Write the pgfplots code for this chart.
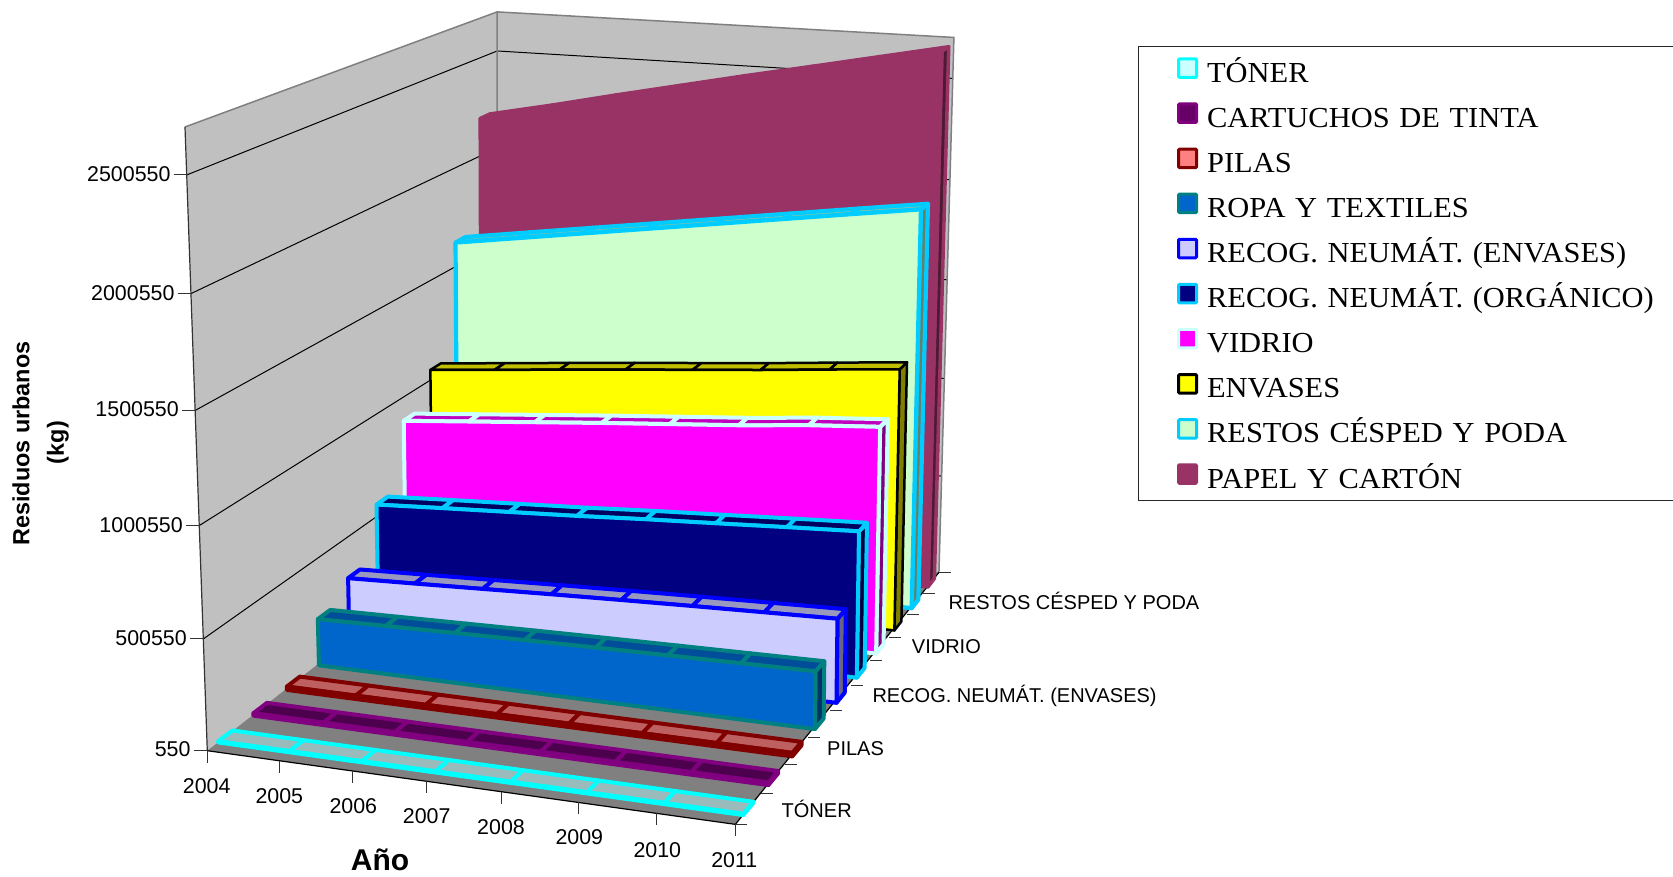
\documentclass[border=0pt]{standalone}
\usepackage{fontspec}
\setmainfont{Liberation Sans}
\newfontfamily\legendfont{Liberation Serif}[FakeStretch=1.05]
\usepackage{pgfplots}
\usepackage{pgfplotstable}
\pgfplotsset{compat=1.18}

% Annual urban waste per collection stream, in thousands of kg
\pgfplotstableread{
yr   toner cart pilas ropa neuenv neuorg vidrio envases restos papel
2004 5     11   16    222  311    569    890    1058    1626   2193
2005 5     11   16    229  323    587    919    1089    1675   2260
2006 5     11   16    236  336    604    948    1121    1724   2332
2007 5     11   16    243  349    621    977    1152    1773   2401
2008 5     11   16    249  361    641    1004   1181    1822   2470
2009 5     11   16    254  372    658    1031   1211    1871   2536
2010 5     11   16    259  382    676    1064   1244    1920   2603
2011 5     11   16    264  392    693    1089   1276    1968   2670
}\wastetable

% Perspective projection: year index (0-7), depth (0-1), value (thousand kg)
\newcommand\project[3]{%
  \pgfmathsetmacro\pu{#1/7}%
  \pgfmathsetmacro\pv{#2}%
  \pgfmathsetmacro\pw{#3/2700}%
  \pgfmathsetmacro\pd{1-0.055*\pu+0.2214*\pv-0.04*\pw}%
  \pgfmathsetmacro\px{(207.3+487.6*\pu+400.3*\pv-29.7*\pw)/\pd+12*\pv*(1-\pv)+8*\pv*\pw}%
  \pgfmathsetmacro\py{(750.7+28.3*\pu-111.4*\pv-628.8*\pw)/\pd+3*\pv*\pw}%
}
\newcommand\addpt[3]{\project{#1}{#2}{#3}\edef\pts{\pts (\px,\py)}}
\newcommand\emitpoly[1]{%
  \edef\tmp{\noexpand\addplot[forget plot,#1] coordinates {\pts} --cycle;}\tmp}
\newcommand\emitline[1]{%
  \edef\tmp{\noexpand\addplot[forget plot,#1] coordinates {\pts};}\tmp}
% Straight segment on the chart box
\newcommand\boxline[7]{%
  \def\pts{}\addpt{#1}{#2}{#3}\addpt{#4}{#5}{#6}\emitline{#7}}

% One series slab: column, series position, front, top, side, border, width
\newcommand\slab[7]{%
  \pgfmathsetmacro\vf{(#2+0.3)/10}%
  \pgfmathsetmacro\vb{(#2+0.7)/10}%
  \def\sty{draw=#6,line width=#7,line join=round}%
  % right end
  \pgfplotstablegetelem{7}{#1}\of\wastetable\let\zlast\pgfplotsretval
  \def\pts{}\addpt{7}{\vf}{0}\addpt{7}{\vb}{0}\addpt{7}{\vb}{\zlast}\addpt{7}{\vf}{\zlast}%
  \emitpoly{fill=#5,\sty}%
  % top, one panel per year
  \pgfplotsforeachungrouped \j in {0,...,6}{%
    \pgfmathtruncatemacro\jn{\j+1}%
    \pgfplotstablegetelem{\j}{#1}\of\wastetable\let\za\pgfplotsretval
    \pgfplotstablegetelem{\jn}{#1}\of\wastetable\let\zb\pgfplotsretval
    \def\pts{}\addpt{\j}{\vf}{\za}\addpt{\jn}{\vf}{\zb}\addpt{\jn}{\vb}{\zb}\addpt{\j}{\vb}{\za}%
    \emitpoly{fill=#4,\sty}%
  }%
  % front
  \def\pts{}\addpt{0}{\vf}{0}%
  \pgfplotsforeachungrouped \j in {0,...,7}{%
    \pgfplotstablegetelem{\j}{#1}\of\wastetable\let\za\pgfplotsretval
    \addpt{\j}{\vf}{\za}%
  }%
  \addpt{7}{\vf}{0}%
  \emitpoly{fill=#3,\sty}%
}
\newcommand\swatch[2]{%
  \addlegendimage{legend image code/.code={%
    \draw[fill=#1,draw=#2,line width=3pt,rounded corners=1pt]
      (1.5pt,-6.8pt) rectangle (19.5pt,11.7pt);}}}

\definecolor{wallgray}{HTML}{C0C0C0}
\definecolor{floorgray}{HTML}{808080}
\definecolor{tonF}{HTML}{CCFFFF}\definecolor{tonT}{HTML}{99BBBB}\definecolor{tonB}{HTML}{00FFFF}
\definecolor{carF}{HTML}{660066}\definecolor{carT}{HTML}{4D004D}\definecolor{carB}{HTML}{800080}
\definecolor{pilF}{HTML}{FF8080}\definecolor{pilT}{HTML}{BF6060}\definecolor{pilB}{HTML}{800000}
\definecolor{ropF}{HTML}{0066CC}\definecolor{ropT}{HTML}{004D99}\definecolor{ropS}{HTML}{003366}\definecolor{ropB}{HTML}{008080}
\definecolor{neeF}{HTML}{CCCCFF}\definecolor{neeT}{HTML}{9999BF}\definecolor{neeS}{HTML}{666680}\definecolor{neeB}{HTML}{0000FF}
\definecolor{neoF}{HTML}{000080}\definecolor{neoT}{HTML}{000060}\definecolor{neoS}{HTML}{000040}\definecolor{neoB}{HTML}{00CCFF}
\definecolor{vidF}{HTML}{FF00FF}\definecolor{vidT}{HTML}{BF00BF}\definecolor{vidS}{HTML}{800080}\definecolor{vidB}{HTML}{CCFFFF}
\definecolor{envF}{HTML}{FFFF00}\definecolor{envT}{HTML}{BFBF00}\definecolor{envS}{HTML}{808000}
\definecolor{resF}{HTML}{CCFFCC}\definecolor{resT}{HTML}{99BF99}\definecolor{resS}{HTML}{668066}\definecolor{resB}{HTML}{00CCFF}
\definecolor{papF}{HTML}{993366}\definecolor{papT}{HTML}{732650}\definecolor{papS}{HTML}{4D1A33}

\tikzset{
  ticklab/.style={font=\fontsize{21.4}{21.4}\selectfont,inner sep=0pt},
  serlab/.style={font=\fontsize{20}{20}\selectfont,inner sep=0pt,anchor=west},
  axtitle/.style={font=\bfseries\fontsize{#1}{#1}\selectfont,inner sep=0pt},
}

\begin{document}
\begin{tikzpicture}
\path[use as bounding box] (0,0) rectangle (1673pt,877pt);
\begin{axis}[
  at={(0,0)},anchor=south west,
  scale only axis,width=1673pt,height=877pt,
  xmin=0,xmax=1673,ymin=0,ymax=877,y dir=reverse,
  hide axis,clip=false,
  legend cell align=left,
  legend style={
    at={(axis cs:1137.6,46)},anchor=north west,
    draw=black!85,line width=1pt,
    inner xsep=39pt,inner ysep=1.5pt,
    column sep=9pt,row sep=0pt,
    font=\legendfont\fontsize{29}{29}\selectfont,
    nodes={inner sep=0pt,text height=34.1pt,text depth=11pt,text width=470pt,align=left},
  },
]
% Legend entries, in the stacking order of the series
\swatch{tonF}{tonB}\addlegendentry{TÓNER}
\swatch{carF}{carB}\addlegendentry{CARTUCHOS DE TINTA}
\swatch{pilF}{pilB}\addlegendentry{PILAS}
\swatch{ropF}{ropB}\addlegendentry{ROPA Y TEXTILES}
\swatch{neeF}{neeB}\addlegendentry{RECOG. NEUMÁT. (ENVASES)}
\swatch{neoF}{neoB}\addlegendentry{RECOG. NEUMÁT. (ORGÁNICO)}
\swatch{vidF}{vidB}\addlegendentry{VIDRIO}
\swatch{envF}{black}\addlegendentry{ENVASES}
\swatch{resF}{resB}\addlegendentry{RESTOS CÉSPED Y PODA}
\swatch{papF}{papF}\addlegendentry{PAPEL Y CARTÓN}

% Left wall, back wall and floor
\def\pts{}\addpt{0}{0}{0}\addpt{0}{0}{2700}\addpt{0}{1}{2700}\addpt{0}{1}{0}\emitpoly{fill=wallgray,draw=none}
\def\pts{}\addpt{0}{1}{0}\addpt{0}{1}{2700}\addpt{7}{1}{2700}\addpt{7}{1}{0}\emitpoly{fill=wallgray,draw=none}
\def\pts{}\addpt{0}{0}{0}\addpt{7}{0}{0}\addpt{7}{1}{0}\addpt{0}{1}{0}\emitpoly{fill=floorgray,draw=none}

% Grid lines on both walls
\pgfplotsforeachungrouped \z in {500,1000,1500,2000,2500}{%
  \def\pts{}\addpt{0}{0}{\z}\addpt{0}{1}{\z}\addpt{7}{1}{\z}\emitline{black,line width=1pt}%
}
% Outline of the walls
\def\pts{}\addpt{0}{0}{2700}\addpt{0}{1}{2700}\addpt{7}{1}{2700}\addpt{7}{1}{0}\emitline{floorgray,line width=1.5pt}
\boxline{0}{1}{0}{0}{1}{2700}{floorgray,line width=1.5pt}
\boxline{0}{0}{0}{0}{0}{2700}{black!80,line width=1.2pt}
\def\pts{}\addpt{0}{0}{0}\addpt{7}{0}{0}\addpt{7}{1}{0}\emitline{black,line width=1.2pt}

% Year ticks along the front edge
\pgfplotsforeachungrouped \j in {0,...,7}{%
  \project{\j}{0}{0}%
  \pgfmathsetmacro\qy{\py+12}%
  \edef\tmp{\noexpand\addplot[forget plot,black!80,line width=1pt] coordinates {(\px,\py) (\px,\qy)};}\tmp
}
% Series ticks along the right edge
\pgfplotsforeachungrouped \k in {0,...,10}{%
  \pgfmathsetmacro\vk{\k/10}%
  \project{7}{\vk}{0}%
  \pgfmathsetmacro\qx{\px+12}%
  \edef\tmp{\noexpand\addplot[forget plot,black!80,line width=1pt] coordinates {(\px,\py) (\qx,\py)};}\tmp
}
% Value ticks along the left edge
\pgfplotsforeachungrouped \z in {0,500,1000,1500,2000,2500}{%
  \project{0}{0}{\z}%
  \pgfmathsetmacro\qx{\px-13}%
  \edef\tmp{\noexpand\addplot[forget plot,black!80,line width=1pt] coordinates {(\qx,\py) (\px,\py)};}\tmp
}

% Series, from the back of the chart to the front
\slab{papel}{9}{papF}{papT}{papS}{papF}{3.5pt}
\slab{restos}{8}{resF}{resT}{resS}{resB}{4.2pt}
\slab{envases}{7}{envF}{envT}{envS}{black}{2.5pt}
\slab{vidrio}{6}{vidF}{vidT}{vidS}{vidB}{4pt}
\slab{neuorg}{5}{neoF}{neoT}{neoS}{neoB}{4pt}
\slab{neuenv}{4}{neeF}{neeT}{neeS}{neeB}{4pt}
\slab{ropa}{3}{ropF}{ropT}{ropS}{ropB}{4pt}
\slab{pilas}{2}{pilF}{pilT}{pilB}{pilB}{4pt}
\slab{cart}{1}{carF}{carT}{carB}{carB}{4pt}
\slab{toner}{0}{tonF}{tonT}{tonB}{tonB}{4pt}

% Value labels
\node[ticklab,anchor=east] at (axis cs:170.7,173.7) {2500550};
\node[ticklab,anchor=east] at (axis cs:174.7,293.4) {2000550};
\node[ticklab,anchor=east] at (axis cs:179,409.6) {1500550};
\node[ticklab,anchor=east] at (axis cs:183,525.4) {1000550};
\node[ticklab,anchor=east] at (axis cs:187,637.7) {500550};
\node[ticklab,anchor=east] at (axis cs:190.7,749.6) {550};
% Year labels
\node[ticklab] at (axis cs:206.7,785.7) {2004};
\node[ticklab] at (axis cs:279.3,795.7) {2005};
\node[ticklab] at (axis cs:353.3,805.7) {2006};
\node[ticklab] at (axis cs:426.7,815.7) {2007};
\node[ticklab] at (axis cs:501,827.3) {2008};
\node[ticklab] at (axis cs:579.3,837.3) {2009};
\node[ticklab] at (axis cs:657.3,850) {2010};
\node[ticklab] at (axis cs:734.3,860) {2011};
% Series labels beside the right edge
\node[serlab] at (axis cs:781.5,809) {TÓNER};
\node[serlab] at (axis cs:827,749) {PILAS};
\node[serlab] at (axis cs:872.3,695.7) {RECOG. NEUMÁT. (ENVASES)};
\node[serlab] at (axis cs:911.7,646.7) {VIDRIO};
\node[serlab] at (axis cs:948.3,600.7) {RESTOS CÉSPED Y PODA};
% Axis titles
\node[axtitle=23.4,rotate=90] at (axis cs:21,443.5) {Residuos urbanos};
\node[axtitle=23.4,rotate=90] at (axis cs:58,442.6) {(kg)};
\node[axtitle=30] at (axis cs:380,860) {Año};
\end{axis}
\end{tikzpicture}
\end{document}
